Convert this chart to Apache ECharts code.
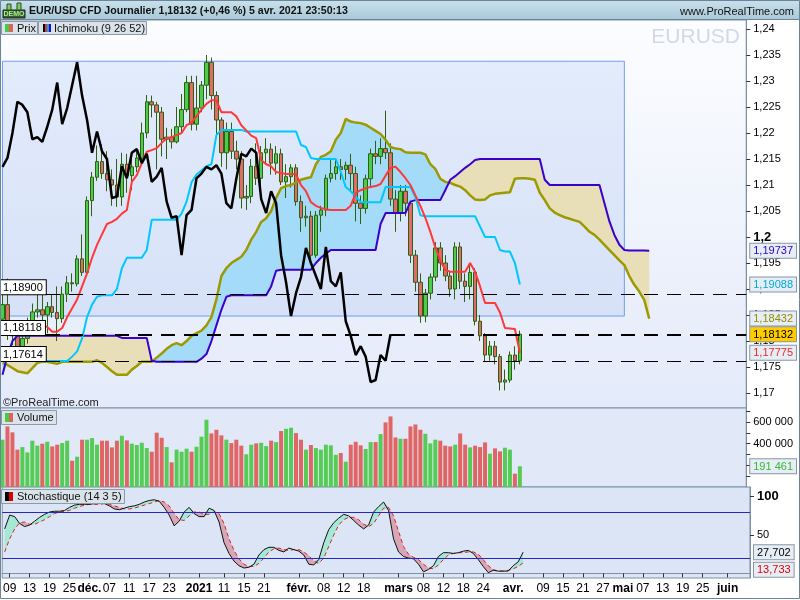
<!DOCTYPE html>
<html><head><meta charset="utf-8">
<script src="https://cdn.jsdelivr.net/npm/echarts@6/dist/echarts.min.js"></script>
<style>html,body{margin:0;padding:0;background:#fff}#c{width:800px;height:600px}</style>
</head><body><div id="c"></div><script>
// ---------------- DATA ----------------
const dates = ['2020-11-06','2020-11-09','2020-11-10','2020-11-11','2020-11-12','2020-11-13','2020-11-16','2020-11-17','2020-11-18','2020-11-19','2020-11-20','2020-11-23','2020-11-24','2020-11-25','2020-11-26','2020-11-27','2020-11-30',
'2020-12-01','2020-12-02','2020-12-03','2020-12-04','2020-12-07','2020-12-08','2020-12-09','2020-12-10','2020-12-11','2020-12-14','2020-12-15','2020-12-16','2020-12-17','2020-12-18','2020-12-21','2020-12-22','2020-12-23','2020-12-24','2020-12-28','2020-12-29','2020-12-30','2020-12-31',
'2021-01-04','2021-01-05','2021-01-06','2021-01-07','2021-01-08','2021-01-11','2021-01-12','2021-01-13','2021-01-14','2021-01-15','2021-01-18','2021-01-19','2021-01-20','2021-01-21','2021-01-22','2021-01-25','2021-01-26','2021-01-27','2021-01-28','2021-01-29',
'2021-02-01','2021-02-02','2021-02-03','2021-02-04','2021-02-05','2021-02-08','2021-02-09','2021-02-10','2021-02-11','2021-02-12','2021-02-15','2021-02-16','2021-02-17','2021-02-18','2021-02-19','2021-02-22','2021-02-23','2021-02-24','2021-02-25','2021-02-26',
'2021-03-01','2021-03-02','2021-03-03','2021-03-04','2021-03-05','2021-03-08','2021-03-09','2021-03-10','2021-03-11','2021-03-12','2021-03-15','2021-03-16','2021-03-17','2021-03-18','2021-03-19','2021-03-22','2021-03-23','2021-03-24','2021-03-25','2021-03-26','2021-03-29','2021-03-30','2021-03-31',
'2021-04-01','2021-04-02','2021-04-05','2021-04-06','2021-04-07','2021-04-08','2021-04-09','2021-04-12','2021-04-13','2021-04-14','2021-04-15','2021-04-16','2021-04-19','2021-04-20','2021-04-21','2021-04-22','2021-04-23','2021-04-26','2021-04-27','2021-04-28','2021-04-29','2021-04-30',
'2021-05-03','2021-05-04','2021-05-05','2021-05-06','2021-05-07','2021-05-10','2021-05-11','2021-05-12','2021-05-13','2021-05-14','2021-05-17','2021-05-18','2021-05-19','2021-05-20','2021-05-21','2021-05-24','2021-05-25','2021-05-26','2021-05-27','2021-05-28','2021-05-31',
'2021-06-01','2021-06-02','2021-06-03','2021-06-04','2021-06-07'];

const opens = [1.1842,1.1870,1.1815,1.1810,1.1780,1.1805,1.1832,1.1856,1.1860,1.1850,
1.1866,1.1855,1.1843,1.1890,1.1912,1.1910,1.1958,1.1932,1.2070,1.2115,
1.2145,1.2122,1.2110,1.2100,1.2077,1.2140,1.2118,1.2135,1.2152,1.2200,
1.2260,1.2254,1.2240,1.2188,1.2192,1.2183,1.2212,1.2245,1.2297,1.2217,
1.2248,1.2292,1.2336,1.2272,1.2225,1.2162,1.2203,1.2165,1.2150,1.2075,
1.2078,1.2136,1.2113,1.2162,1.2169,1.2142,1.2160,1.2106,1.2116,1.2133,
1.2068,1.2037,1.2040,1.1965,1.2042,1.2052,1.2113,1.2122,1.2135,1.2130,
1.2138,1.2122,1.2065,1.2055,1.2112,1.2160,1.2155,1.2170,1.2162,1.2073,
1.2046,1.2088,1.2065,1.1965,1.1913,1.1848,1.1892,1.1923,1.1979,1.1950,
1.1925,1.1900,1.1981,1.1915,1.1905,1.1932,1.1838,1.1810,1.1773,1.1790,
1.1770,1.1721,1.1725,1.1773,1.1762];
const closes = [1.1870,1.1815,1.1810,1.1780,1.1805,1.1832,1.1856,1.1860,1.1850,1.1866,
1.1855,1.1843,1.1890,1.1912,1.1910,1.1958,1.1932,1.2070,1.2115,1.2145,
1.2122,1.2110,1.2100,1.2077,1.2140,1.2118,1.2135,1.2152,1.2200,1.2260,
1.2254,1.2240,1.2188,1.2192,1.2183,1.2212,1.2245,1.2297,1.2217,1.2248,
1.2292,1.2336,1.2272,1.2225,1.2162,1.2203,1.2165,1.2150,1.2075,1.2078,
1.2136,1.2113,1.2162,1.2169,1.2142,1.2160,1.2106,1.2116,1.2133,1.2068,
1.2037,1.2040,1.1965,1.2042,1.2052,1.2113,1.2122,1.2135,1.2130,1.2138,
1.2122,1.2065,1.2055,1.2112,1.2160,1.2155,1.2170,1.2162,1.2073,1.2046,
1.2088,1.2065,1.1965,1.1913,1.1848,1.1892,1.1923,1.1979,1.1950,1.1925,
1.1900,1.1981,1.1915,1.1905,1.1932,1.1838,1.1810,1.1773,1.1790,1.1770,
1.1721,1.1725,1.1773,1.1762,1.18132];
const highs = [1.1888,1.1920,1.1832,1.1818,1.1815,1.1845,1.1872,1.1895,1.1890,1.1875,
1.1890,1.1905,1.1905,1.1925,1.1930,1.1965,1.2005,1.2078,1.2125,1.2176,
1.2178,1.2165,1.2130,1.2150,1.2162,1.2160,1.2162,1.2170,1.2220,1.2273,
1.2272,1.2260,1.2250,1.2210,1.2208,1.2250,1.2275,1.2310,1.2310,1.2310,
1.2300,1.2350,1.2345,1.2280,1.2230,1.2220,1.2220,1.2185,1.2165,1.2100,
1.2150,1.2180,1.2175,1.2190,1.2180,1.2175,1.2170,1.2140,1.2140,1.2140,
1.2080,1.2060,1.2050,1.2050,1.2060,1.2120,1.2150,1.2150,1.2150,1.2145,
1.2160,1.2135,1.2080,1.2120,1.2170,1.2185,1.2190,1.2243,1.2180,1.2090,
1.2100,1.2100,1.2070,1.1975,1.1930,1.1900,1.1930,1.1990,1.1990,1.1965,
1.1935,1.1990,1.1990,1.1930,1.1945,1.1940,1.1850,1.1815,1.1800,1.1800,
1.1775,1.1745,1.1780,1.1790,1.1820];
const lows = [1.1832,1.1802,1.1792,1.1768,1.1765,1.1795,1.1822,1.1845,1.1838,1.1815,
1.1845,1.1800,1.1835,1.1875,1.1895,1.1905,1.1925,1.1925,1.2040,1.2108,
1.2112,1.2088,1.2060,1.2058,1.2060,1.2085,1.2090,1.2125,1.2140,1.2190,
1.2230,1.2130,1.2155,1.2150,1.2170,1.2180,1.2200,1.2240,1.2205,1.2205,
1.2240,1.2265,1.2245,1.2190,1.2135,1.2130,1.2150,1.2130,1.2055,1.2052,
1.2065,1.2100,1.2095,1.2140,1.2120,1.2120,1.2100,1.2075,1.2095,1.2060,
1.2010,1.2020,1.1952,1.1960,1.2010,1.2040,1.2105,1.2110,1.2110,1.2110,
1.2090,1.2030,1.2025,1.2045,1.2095,1.2140,1.2140,1.2150,1.2060,1.2010,
1.2030,1.2040,1.1950,1.1895,1.1835,1.1836,1.1880,1.1915,1.1935,1.1915,
1.1885,1.1880,1.1900,1.1875,1.1880,1.1830,1.1800,1.1760,1.1762,1.1755,
1.1705,1.1705,1.1720,1.1745,1.1755];
const volumes = [437000,560000,505000,345000,369000,320000,428000,382000,400000,418000,
375000,391000,406000,428000,243000,280000,437000,437000,452000,391000,
428000,428000,366000,428000,474000,431000,400000,388000,409000,360000,
326000,502000,455000,369000,228000,345000,326000,354000,326000,372000,
465000,622000,495000,529000,477000,437000,406000,437000,382000,302000,
391000,403000,409000,378000,428000,415000,517000,538000,548000,498000,
437000,345000,388000,360000,345000,391000,385000,298000,314000,234000,
391000,418000,385000,351000,415000,415000,489000,597000,652000,458000,
446000,446000,560000,578000,529000,492000,403000,437000,428000,382000,
375000,391000,495000,391000,366000,382000,369000,412000,308000,357000,
329000,363000,345000,123000,191461];

const tenkan = [1.1835,1.1835,1.1835,1.1832,1.1832,1.1830,1.1830,1.1830,1.1830,1.1827,
1.1818,1.1818,1.1825,1.1846,1.1863,1.1880,1.1905,1.1930,1.1960,1.1985,
1.2005,1.2025,1.2029,1.2035,1.2045,1.2052,1.2106,1.2119,1.2142,1.2164,
1.2167,1.2171,1.2181,1.2190,1.2192,1.2196,1.2200,1.2215,1.2220,1.2232,
1.2245,1.2256,1.2263,1.2263,1.2240,1.2240,1.2240,1.2232,1.2215,1.2205,
1.2195,1.2190,1.2148,1.2140,1.2136,1.2125,1.2123,1.2121,1.2121,1.2121,
1.2100,1.2088,1.2067,1.2060,1.2056,1.2053,1.2052,1.2052,1.2052,1.2052,
1.2060,1.2085,1.2090,1.2094,1.2096,1.2098,1.2102,1.2118,1.2133,1.2135,
1.2125,1.2113,1.2100,1.2080,1.2060,1.2037,1.2010,1.1980,1.1955,1.1937,
1.1933,1.1933,1.1933,1.1933,1.1950,1.1933,1.1905,1.1873,1.1873,1.1873,
1.1855,1.1825,1.1824,1.1823,1.17775];
const kijun = [1.17614,1.17614,1.17614,1.17614,1.17614,1.17614,1.17614,1.17614,1.17614,1.17614,
1.17614,1.17614,1.17614,1.17614,1.1770,1.1780,1.1805,1.1846,1.1870,1.1885,
1.1888,1.1888,1.1888,1.1900,1.1940,1.1960,1.1960,1.1960,1.1960,1.1975,
1.2033,1.2033,1.2033,1.2033,1.2033,1.2033,1.2045,1.2068,1.2105,1.2120,
1.2128,1.2136,1.2140,1.2196,1.2206,1.2206,1.2206,1.2206,1.2206,1.2203,
1.2203,1.2203,1.2203,1.2203,1.2203,1.2203,1.2203,1.2203,1.2203,1.2203,
1.2177,1.2173,1.2152,1.2150,1.2150,1.2150,1.2150,1.2150,1.2125,1.2096,
1.2088,1.2078,1.2067,1.2067,1.2067,1.2067,1.2067,1.2096,1.2096,1.2096,
1.2096,1.2096,1.2096,1.2077,1.2042,1.2040,1.2040,1.2040,1.2040,1.2040,
1.2040,1.2040,1.2040,1.2040,1.2040,1.2040,1.2020,1.2000,1.2000,1.2000,
1.1975,1.1972,1.1972,1.1950,1.19088];
const senkouA = [1.1758,1.1754,1.1748,1.1742,1.1740,1.1738,1.1748,1.1758,1.1760,1.1760,
1.1758,1.1756,1.1760,1.1760,1.1760,1.1760,1.1760,1.1760,1.1760,1.1763,
1.1758,1.1750,1.1742,1.1735,1.1735,1.1735,1.1745,1.1752,1.1760,1.1760,
1.1760,1.1768,1.1776,1.1785,1.1792,1.1796,1.1792,1.1800,1.1810,1.1815,
1.1820,1.1830,1.1846,1.1880,1.1925,1.1940,1.1950,1.1956,1.1962,1.1975,
1.1995,1.2010,1.2029,1.2036,1.2050,1.2075,1.2094,1.2098,1.2100,1.2105,
1.2110,1.2113,1.2115,1.2140,1.2154,1.2158,1.2165,1.2187,1.2200,1.2227,
1.2222,1.2220,1.2219,1.2216,1.2210,1.2204,1.2198,1.2187,1.2173,1.2170,
1.2169,1.2163,1.2162,1.2162,1.2162,1.2159,1.2140,1.2131,1.2112,1.2106,
1.2104,1.2100,1.2097,1.2090,1.2080,1.2072,1.2071,1.2072,1.2080,1.2083,
1.2084,1.2085,1.2086,1.2112,1.2113,1.2113,1.2112,1.2110,1.2085,1.2071,
1.2055,1.2047,1.2042,1.2038,1.2035,1.2032,1.2029,1.2020,1.2010,1.2004,
1.1995,1.1985,1.1975,1.1965,1.1955,1.1946,1.1925,1.1908,1.1895,1.1879,
1.18432];
const senkouB = [1.1735,1.1772,1.1800,1.1810,1.1810,1.1810,1.1810,1.1810,1.1810,1.1810,
1.1810,1.1810,1.1810,1.1810,1.1810,1.1810,1.1810,1.1810,1.1810,1.1810,
1.1810,1.1810,1.1810,1.1810,1.1806,1.1806,1.1806,1.1806,1.1806,1.1806,
1.1762,1.1760,1.1760,1.1760,1.1760,1.1760,1.1760,1.1760,1.1760,1.1760,
1.1766,1.1775,1.1800,1.1830,1.1860,1.1885,1.1888,1.1888,1.1888,1.1888,
1.1888,1.1888,1.1888,1.1888,1.1905,1.1935,1.1937,1.1937,1.1937,1.1937,
1.1937,1.1937,1.1937,1.1950,1.1960,1.1968,1.1975,1.1975,1.1975,1.1975,
1.1975,1.1975,1.1975,1.1975,1.1975,1.1975,1.2025,1.2046,1.2046,1.2046,
1.2046,1.2046,1.2068,1.2071,1.2071,1.2071,1.2071,1.2071,1.2071,1.2090,
1.2110,1.2117,1.2125,1.2133,1.2140,1.2148,1.2150,1.2150,1.2150,1.2150,
1.2150,1.2150,1.2150,1.2150,1.2150,1.2150,1.2150,1.2150,1.2150,1.2110,
1.2100,1.2100,1.2100,1.2100,1.2100,1.2100,1.2100,1.2100,1.2100,1.2100,
1.2100,1.2065,1.2030,1.2004,1.1985,1.1975,1.1974,1.1974,1.1974,1.1974,
1.19737];
const stochK = [58,76,74,65,61,63,68,73,77,80,
81,81,82,86,89,90,90,90,91,91,
91,88,84,83,85,87,88,90,93,95,
96,94,86,76,62,68,80,86,78,74,
74,85,82,67,40,26,16,10,7,8,
12,24,31,34,34,30,28,33,31,29,
24,12,11,18,40,57,66,72,77,75,
69,63,58,63,80,87,93,82,45,28,
22,20,19,12,2,5,10,22,27,27,
26,27,29,30,26,18,9,1,4,3,
3,3,10,15,27.702];
const stochD = [28,45,58,66,67,64,64,67,70,74,
78,80,81,82,85,87,89,90,90,90,
91,90,88,86,84,84,85,87,89,91,
93,95,93,88,78,70,69,75,80,80,
77,77,80,78,65,45,30,19,12,9,
9,13,20,28,32,33,31,30,31,31,
28,23,16,13,20,35,50,63,70,73,
73,70,64,61,65,75,85,86,75,55,
35,25,21,18,12,7,6,11,18,24,
26,27,27,28,28,25,18,10,5,3,
3,4,6,9,13.733];

const priceTicks = [1.17,1.175,1.18,1.185,1.19,1.195,1.2,1.205,1.21,1.215,1.22,1.225,1.23,1.235,1.24];
const volTicks = [100000,200000,300000,400000,500000,600000,700000];
const volLabels = [400000,600000];
const stochTicks = [50,100];
const stochLevels = [80,20];
const levels = [1.18900,1.18118,1.17614];
const priceLine = 1.18132;
const rectBox = {from:'2020-11-06', to:'2021-05-04', top:1.2338, bottom:1.1848};
const tickLabels = [['2020-11-09','09'],['2020-11-13','13'],['2020-11-19','19'],['2020-11-25','25'],['2020-12-01','déc.'],['2020-12-07','07'],['2020-12-11','11'],['2020-12-17','17'],['2020-12-23','23'],['2021-01-04','2021'],['2021-01-11','11'],['2021-01-15','15'],['2021-01-21','21'],['2021-02-01','févr.'],['2021-02-08','08'],['2021-02-12','12'],['2021-02-18','18'],['2021-03-01','mars'],['2021-03-08','08'],['2021-03-12','12'],['2021-03-18','18'],['2021-03-24','24'],['2021-04-01','avr.'],['2021-04-09','09'],['2021-04-15','15'],['2021-04-21','21'],['2021-04-27','27'],['2021-05-03','mai'],['2021-05-07','07'],['2021-05-13','13'],['2021-05-19','19'],['2021-05-25','25'],['2021-06-01','juin']];
const boldLabels = ['déc.','2021','févr.','mars','avr.','mai','juin'];

// ---------------- BUILD ----------------
const FONT = '"Liberation Sans", Arial, sans-serif';
const fmt = (v,d) => v.toFixed(d).replace('.', ',');
const fmtVol = v => String(Math.round(v)).replace(/\B(?=(\d{3})+(?!\d))/g, ' ');
const tickMap = new Map(tickLabels);
const tickFn = (i, v) => tickMap.has(v);

const candleData = closes.map((c,i) => [opens[i], c, lows[i], highs[i]]);
const volData = volumes.map((v,i) => ({value:v, itemStyle:{color: closes[i] >= opens[i] ? '#55cc55' : '#e06666'}}));
const chikou = closes.slice(26);
const cloudBase = senkouA.map((a,i) => Math.min(a, senkouB[i]));
const cloudBull = senkouA.map((a,i) => Math.max(a - senkouB[i], 0));
const cloudBear = senkouA.map((a,i) => Math.max(senkouB[i] - a, 0));
const stBase = stochK.map((k,i) => Math.min(k, stochD[i]));
const stUp = stochK.map((k,i) => Math.max(k - stochD[i], 0));
const stDn = stochK.map((k,i) => Math.max(stochD[i] - k, 0));

const last = a => a[a.length-1];
const boxStyle = (color, bg) => ({color, backgroundColor: bg || '#e7edf5', borderColor:'#8796a8', borderWidth:1, padding:[2,3,1,3], fontSize:11, fontFamily:FONT});
const priceBoxes = [
  {v:last(senkouB), s:boxStyle('#3300cc')},
  {v:last(kijun), s:boxStyle('#00aadd')},
  {v:last(senkouA), s:boxStyle('#8f8f00')},
  {v:last(closes), s:boxStyle('#000', '#ffcc00')},
  {v:last(tenkan), s:boxStyle('#ee2a2a')}
];
const priceRich = {}; priceBoxes.forEach((b,i)=>priceRich['p'+i]=b.s);
const findIdx = (arr, v) => { let bi=0, bd=1e9; arr.forEach((b,i)=>{const d=Math.abs(b.v-v); if(d<bd){bd=d;bi=i;}}); return bi; };

const PMAX = 1.24173, PMIN = 1.16712;
const SMIN = -6, SMAX = 112.6;
const gridBorder = '#7d90a4';
const lineBase = {type:'line', showSymbol:false, symbol:'none', silent:true, xAxisIndex:0, yAxisIndex:0};
const boxAxis = (grid, min, max, val, text, style, vAlign) => ({type:'value', gridIndex:grid, position:'right', min, max, z:6, splitLine:{show:false},
  axisLine:{show:false}, axisTick:{show:false},
  axisLabel:{customValues:[val], margin:4, verticalAlign:vAlign || 'middle', formatter: () => '{x|'+text+'}', rich:{x:style}}});

const chart = echarts.init(document.getElementById('c'));
chart.setOption({
  animation:false,
  textStyle:{fontFamily:FONT},
  grid:[
    {left:0, top:20, width:750, height:388, show:true, borderColor:gridBorder, borderWidth:1,
     backgroundColor:{type:'linear',x:0,y:0,x2:0,y2:1,colorStops:[{offset:0,color:'#fcfdff'},{offset:1,color:'#e3eaf9'}]}},
    {left:0, top:408, width:750, height:79, show:true, borderColor:gridBorder, borderWidth:1, backgroundColor:'#e1e8f7'},
    {left:0, top:487, width:750, height:91, show:true, borderColor:gridBorder, borderWidth:1, backgroundColor:'#dce5f6'}
  ],
  xAxis:[
    {type:'category', gridIndex:0, data:dates, boundaryGap:true, show:false},
    {type:'category', gridIndex:1, data:dates, boundaryGap:true, show:false},
    {type:'category', gridIndex:2, data:dates, boundaryGap:true,
     axisLine:{show:true, lineStyle:{color:gridBorder}},
     axisTick:{show:true, interval:tickFn, alignWithLabel:true, length:4, lineStyle:{color:'#333'}},
     axisLabel:{interval:tickFn, margin:5, color:'#000', fontSize:12,
       formatter: v => { const t = tickMap.get(v) || ''; return boldLabels.includes(t) ? '{b|'+t+'}' : '{n|'+t+'}'; },
       rich:{b:{fontWeight:'bold', fontSize:12, color:'#000', fontFamily:FONT}, n:{fontSize:12, color:'#000', fontFamily:FONT}}}}
  ],
  yAxis:[
    {type:'value', gridIndex:0, position:'right', min:PMIN, max:PMAX, splitLine:{show:false},
     axisLine:{show:true, lineStyle:{color:gridBorder}},
     axisTick:{show:true, customValues:priceTicks, length:4, lineStyle:{color:'#333'}},
     axisLabel:{customValues:priceTicks, margin:7, color:'#000', fontSize:11,
       formatter: v => { const s = String(+v.toFixed(3)).replace('.', ','); return Math.abs(v-1.2)<1e-9 ? '{b|'+s+'}' : s; },
       rich:{b:{fontWeight:'bold', fontSize:13, color:'#000', fontFamily:FONT}}}},
    {type:'value', gridIndex:0, position:'right', min:PMIN, max:PMAX, z:6, splitLine:{show:false},
     axisLine:{show:false}, axisTick:{show:false},
     axisLabel:{customValues:priceBoxes.map(b=>b.v), margin:4,
       formatter: v => { const i = findIdx(priceBoxes, v); return '{p'+i+'|'+fmt(priceBoxes[i].v,5)+'}'; }, rich:priceRich}},
    {type:'value', gridIndex:1, position:'right', min:0, max:730000, splitLine:{show:false},
     axisLine:{show:true, lineStyle:{color:gridBorder}},
     axisTick:{show:true, customValues:volTicks, length:4, lineStyle:{color:'#333'}},
     axisLabel:{customValues:volLabels, margin:7, color:'#000', fontSize:11, formatter: v => fmtVol(v)}},
    boxAxis(1, 0, 730000, last(volumes), fmtVol(last(volumes)), boxStyle('#33bb33')),
    {type:'value', gridIndex:2, position:'right', min:SMIN, max:SMAX, splitLine:{show:false},
     axisLine:{show:true, lineStyle:{color:gridBorder}},
     axisTick:{show:true, customValues:stochTicks, length:4, lineStyle:{color:'#333'}},
     axisLabel:{customValues:stochTicks, margin:7, color:'#000', fontSize:11,
       formatter: v => v===100 ? '{b|100}' : String(v), rich:{b:{fontWeight:'bold', fontSize:13, color:'#000', fontFamily:FONT}}}},
    boxAxis(2, SMIN, SMAX, last(stochK), fmt(last(stochK),3), boxStyle('#000'), 'middle'),
    boxAxis(2, SMIN, SMAX, last(stochD), fmt(last(stochD),3), boxStyle('#dd0000'), 'top')
  ],
  series:[
    Object.assign({}, lineBase, {name:'cloudBase', data:cloudBase, stack:'cloud', z:1, lineStyle:{width:0, opacity:0},
      markArea:{silent:true, itemStyle:{color:'rgba(150,180,240,0.22)', borderColor:'#6f9ef2', borderWidth:1},
        data:[[{xAxis:rectBox.from, yAxis:rectBox.top},{xAxis:rectBox.to, yAxis:rectBox.bottom}]]}}),
    Object.assign({}, lineBase, {name:'cloudBull', data:cloudBull, stack:'cloud', z:1, lineStyle:{width:0, opacity:0}, areaStyle:{color:'#a3dbf9', opacity:1}}),
    Object.assign({}, lineBase, {name:'cloudBear', data:cloudBear, stack:'cloud', z:1, lineStyle:{width:0, opacity:0}, areaStyle:{color:'#e8dfb8', opacity:1}}),
    {type:'candlestick', xAxisIndex:0, yAxisIndex:0, data:candleData, barWidth:4, z:2, silent:true,
     itemStyle:{color:'#4ccc4c', color0:'#e06b6b', borderColor:'#2f5f10', borderColor0:'#2f5f10', borderWidth:1}},
    Object.assign({}, lineBase, {name:'senkouA', data:senkouA, z:3, lineStyle:{color:'#9c9a00', width:2.5}}),
    Object.assign({}, lineBase, {name:'senkouB', data:senkouB, z:3, lineStyle:{color:'#3a00cc', width:2}}),
    Object.assign({}, lineBase, {name:'kijun', data:kijun, z:3, lineStyle:{color:'#00c8ff', width:2}}),
    Object.assign({}, lineBase, {name:'tenkan', data:tenkan, z:3, lineStyle:{color:'#ff3838', width:2}}),
    Object.assign({}, lineBase, {name:'chikou', data:chikou, z:4, lineStyle:{color:'#000', width:2.5},
      markLine:{silent:true, symbol:['none','none'], animation:false, precision:5,
        lineStyle:{color:'#000', type:[14,9], width:1},
        label:{show:true, position:'insideStartTop', distance:[0,0], formatter: p => fmt(p.value,5),
          color:'#000', fontSize:11, fontFamily:FONT, backgroundColor:'#fff', borderColor:'#000', borderWidth:1, padding:[2,3,1,3]},
        data: levels.map(v => ({yAxis:v})).concat([{yAxis:priceLine, label:{show:false}}])}}),
    {type:'bar', xAxisIndex:1, yAxisIndex:2, data:volData, barWidth:4, silent:true},
    {type:'line', xAxisIndex:2, yAxisIndex:4, data:stBase, stack:'st', symbol:'none', silent:true, lineStyle:{width:0, opacity:0}},
    {type:'line', xAxisIndex:2, yAxisIndex:4, data:stUp, stack:'st', symbol:'none', silent:true, lineStyle:{width:0, opacity:0}, areaStyle:{color:'#a6e8d6', opacity:1}},
    {type:'line', xAxisIndex:2, yAxisIndex:4, data:stDn, stack:'st', symbol:'none', silent:true, lineStyle:{width:0, opacity:0}, areaStyle:{color:'#d6a7b7', opacity:1}},
    {type:'line', xAxisIndex:2, yAxisIndex:4, data:stochD, symbol:'none', silent:true, z:3, lineStyle:{color:'#e02020', width:1, type:[4,3]}},
    {type:'line', xAxisIndex:2, yAxisIndex:4, data:stochK, symbol:'none', silent:true, z:4, lineStyle:{color:'#111', width:1},
     markLine:{silent:true, symbol:['none','none'], label:{show:false}, lineStyle:{color:'#2626c0', type:'solid', width:1},
       data: stochLevels.map(v => ({yAxis:v}))}}
  ],
  graphic:[
    {type:'rect', z:100, shape:{x:0,y:0,width:800,height:20}, style:{fill:{type:'linear',x:0,y:0,x2:0,y2:1,colorStops:[{offset:0,color:'#c9e1ec'},{offset:1,color:'#a9c8d8'}]}}},
    {type:'line', z:100, shape:{x1:0,y1:19.5,x2:800,y2:19.5}, style:{stroke:'#6c8596', lineWidth:1}},
    {type:'rect', z:101, shape:{x:3,y:10,width:22,height:8}, style:{fill:'#3b5a32', stroke:'#1d2d18'}},
    {type:'text', z:102, style:{x:14,y:14.5,text:'DEMO',fill:'#a6f08a',font:'bold 7px '+FONT,align:'center',verticalAlign:'middle'}},
    {type:'rect', z:101, shape:{x:7,y:4,width:4,height:6}, style:{fill:'#7ad05a', stroke:'#2d4a22'}},
    {type:'rect', z:101, shape:{x:17,y:3,width:4,height:7}, style:{fill:'#7ad05a', stroke:'#2d4a22'}},
    {type:'text', z:102, style:{x:29,y:11,text:'EUR/USD CFD Journalier 1,18132 (+0,46 %) 5 avr. 2021 23:50:13',fill:'#111',font:'bold 10.6px '+FONT,verticalAlign:'middle'}},
    {type:'text', z:102, style:{x:794,y:12,text:'www.ProRealTime.com',fill:'#111',font:'11px '+FONT,align:'right',verticalAlign:'middle'}},
    {type:'text', z:50, style:{x:740,y:37,text:'EURUSD',fill:'#d3d9e4',font:'21px '+FONT,align:'right',verticalAlign:'middle'}},
    {type:'rect', z:100, shape:{x:1.5,y:21.5,width:36,height:13}, style:{fill:'#dbe3ea', stroke:'#8b9bab'}},
    {type:'rect', z:101, shape:{x:5,y:24,width:4,height:8}, style:{fill:'#44cc44'}},
    {type:'rect', z:101, shape:{x:9,y:24,width:4,height:8}, style:{fill:'#e06060'}},
    {type:'text', z:101, style:{x:17,y:28.5,text:'Prix',fill:'#111',font:'11px '+FONT,verticalAlign:'middle'}},
    {type:'rect', z:100, shape:{x:38.5,y:21.5,width:108,height:13}, style:{fill:'#dbe3ea', stroke:'#8b9bab'}},
    {type:'rect', z:101, shape:{x:43,y:24,width:2,height:8}, style:{fill:'#000'}},
    {type:'rect', z:101, shape:{x:45,y:24,width:2,height:8}, style:{fill:'#dd3333'}},
    {type:'rect', z:101, shape:{x:47,y:24,width:2,height:8}, style:{fill:'#00aaee'}},
    {type:'rect', z:101, shape:{x:49,y:24,width:2,height:8}, style:{fill:'#3300cc'}},
    {type:'text', z:101, style:{x:54,y:28.5,text:'Ichimoku (9 26 52)',fill:'#111',font:'11px '+FONT,verticalAlign:'middle'}},
    {type:'text', z:100, style:{x:3,y:403,text:'©ProRealTime.com',fill:'#222',font:'11px '+FONT,verticalAlign:'middle'}},
    {type:'rect', z:100, shape:{x:1.5,y:410.5,width:55,height:14}, style:{fill:'#dbe3ea', stroke:'#8b9bab'}},
    {type:'rect', z:101, shape:{x:5,y:413,width:4,height:9}, style:{fill:'#44cc44'}},
    {type:'rect', z:101, shape:{x:9,y:413,width:4,height:9}, style:{fill:'#e06060'}},
    {type:'text', z:101, style:{x:17,y:418,text:'Volume',fill:'#111',font:'11px '+FONT,verticalAlign:'middle'}},
    {type:'rect', z:100, shape:{x:1.5,y:489.5,width:123,height:14}, style:{fill:'#dbe3ea', stroke:'#8b9bab'}},
    {type:'rect', z:101, shape:{x:5,y:492,width:4,height:9}, style:{fill:'#000'}},
    {type:'rect', z:101, shape:{x:9,y:492,width:4,height:9}, style:{fill:'#dd0000'}},
    {type:'text', z:101, style:{x:17,y:497,text:'Stochastique (14 3 5)',fill:'#111',font:'11px '+FONT,verticalAlign:'middle'}},
    {type:'rect', z:100, shape:{x:0.5,y:0.5,width:799,height:598}, style:{fill:'none', stroke:'#6c8596', lineWidth:1}}
  ]
});
</script></body></html>
